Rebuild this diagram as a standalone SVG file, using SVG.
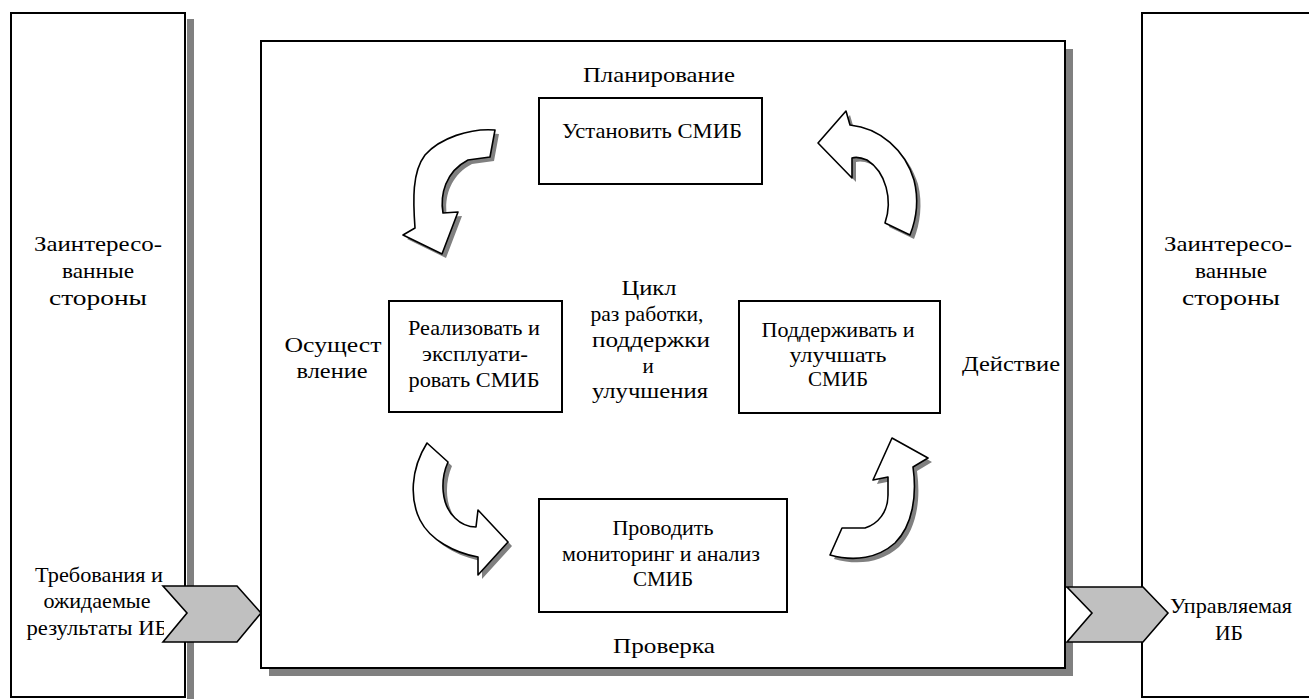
<svg xmlns="http://www.w3.org/2000/svg" width="1309" height="699" viewBox="0 0 1309 699">
<defs>
<path id="a1" d="M495,130 C470,128 440,138 425,155 C412,172 413,200 415,228 L403,235 L442,254 L458,212 L443,213 C440,195 445,172 468,160 L490,157 Z"/>
<path id="a2" d="M818,143 L846,111 L850,125 C880,128 905,150 914,180 C919,200 916,220 910,235 L885,223 C893,200 886,172 867,160 C860,157 855,157 852,158 L852,178 Z"/>
<path id="a3" d="M427,443 L448,462 C440,480 441,505 455,518 C462,525 470,527 476,527 L478,510 L508,542 L478,575 L478,557 C455,553 430,540 420,520 C410,500 410,470 427,443 Z"/>
<path id="a4" d="M892,438 L928,458 L913,467 C917,495 913,525 895,543 C878,558 855,562 830,555 L842,528 L865,528 C878,524 888,512 888,495 L888,477 L873,480 Z"/>
</defs>
<style>
.box{fill:#fff;stroke:#000;stroke-width:2}
.sh{fill:#808080}
.t{font-family:"Liberation Serif","Times New Roman",serif;font-size:21px;fill:#000;text-anchor:middle}
.arr{fill:#fff;stroke:#000;stroke-width:1.6;stroke-linejoin:round}
.arrsh{fill:#808080}
.chev{fill:#c0c0c0;stroke:#000;stroke-width:1.6;stroke-linejoin:miter}
</style>
<rect width="1309" height="699" fill="#fff"/>

<g id="left-stakeholders">
<rect class="sh" x="187" y="19" width="7" height="690"/>
<rect class="box" x="11" y="13" width="174" height="684"/>
<text class="t" x="98" y="251" textLength="128" lengthAdjust="spacingAndGlyphs">Заинтересо-</text>
<text class="t" x="98" y="278" textLength="72" lengthAdjust="spacingAndGlyphs">ванные</text>
<text class="t" x="98" y="305" textLength="98" lengthAdjust="spacingAndGlyphs">стороны</text>
<text class="t" x="99" y="582" textLength="128" lengthAdjust="spacingAndGlyphs">Требования и</text>
<text class="t" x="97" y="608" textLength="107" lengthAdjust="spacingAndGlyphs">ожидаемые</text>
<text class="t" x="97" y="635" textLength="141" lengthAdjust="spacingAndGlyphs">результаты ИБ</text>
</g>

<g id="right-stakeholders">
<rect class="box" x="1142" y="13" width="180" height="684"/>
<text class="t" x="1228" y="251" textLength="128" lengthAdjust="spacingAndGlyphs">Заинтересо-</text>
<text class="t" x="1231" y="278" textLength="72" lengthAdjust="spacingAndGlyphs">ванные</text>
<text class="t" x="1231" y="305" textLength="98" lengthAdjust="spacingAndGlyphs">стороны</text>
<text class="t" x="1231" y="613" textLength="122" lengthAdjust="spacingAndGlyphs">Управляемая</text>
<text class="t" x="1229" y="640" textLength="28" lengthAdjust="spacingAndGlyphs">ИБ</text>
</g>

<g id="cycle-frame">
<rect class="sh" x="269" y="49" width="804" height="627"/>
<rect class="box" x="261" y="41" width="804" height="627"/>
<text class="t" x="659" y="82" textLength="152" lengthAdjust="spacingAndGlyphs">Планирование</text>
<text class="t" x="333" y="352" textLength="97" lengthAdjust="spacingAndGlyphs">Осущест</text>
<text class="t" x="332" y="378" textLength="71" lengthAdjust="spacingAndGlyphs">вление</text>
<text class="t" x="649" y="295" textLength="55" lengthAdjust="spacingAndGlyphs">Цикл</text>
<text class="t" x="647" y="321" textLength="113" lengthAdjust="spacingAndGlyphs">раз работки,</text>
<text class="t" x="651" y="347" textLength="118" lengthAdjust="spacingAndGlyphs">поддержки</text>
<text class="t" x="648" y="373">и</text>
<text class="t" x="650" y="398" textLength="116" lengthAdjust="spacingAndGlyphs">улучшения</text>
<text class="t" x="1011" y="371" textLength="98" lengthAdjust="spacingAndGlyphs">Действие</text>
<text class="t" x="664" y="653" textLength="102" lengthAdjust="spacingAndGlyphs">Проверка</text>
</g>

<g id="establish">
<rect class="box" x="539" y="98" width="223" height="86"/>
<text class="t" x="652" y="138" textLength="180" lengthAdjust="spacingAndGlyphs">Установить СМИБ</text>
</g>

<g id="implement">
<rect class="box" x="389" y="301" width="173" height="111"/>
<text class="t" x="474" y="335" textLength="132" lengthAdjust="spacingAndGlyphs">Реализовать и</text>
<text class="t" x="475" y="361" textLength="106" lengthAdjust="spacingAndGlyphs">эксплуати-</text>
<text class="t" x="474" y="387" textLength="131" lengthAdjust="spacingAndGlyphs">ровать СМИБ</text>
</g>

<g id="maintain">
<rect class="box" x="739" y="301" width="201" height="112"/>
<text class="t" x="838" y="337" textLength="153" lengthAdjust="spacingAndGlyphs">Поддерживать и</text>
<text class="t" x="838" y="362" textLength="97" lengthAdjust="spacingAndGlyphs">улучшать</text>
<text class="t" x="838" y="386" textLength="60" lengthAdjust="spacingAndGlyphs">СМИБ</text>
</g>

<g id="monitor">
<rect class="box" x="539" y="499" width="248" height="113"/>
<text class="t" x="663" y="535" textLength="101" lengthAdjust="spacingAndGlyphs">Проводить</text>
<text class="t" x="661" y="561" textLength="198" lengthAdjust="spacingAndGlyphs">мониторинг и анализ</text>
<text class="t" x="663" y="586" textLength="60" lengthAdjust="spacingAndGlyphs">СМИБ</text>
</g>

<g id="connectors">
<g transform="translate(4,4)" class="arrsh">
<use href="#a1"/>
<use href="#a2"/>
<use href="#a3"/>
<use href="#a4"/>
</g>
<use href="#a1" class="arr"/>
<use href="#a2" class="arr"/>
<use href="#a3" class="arr"/>
<use href="#a4" class="arr"/>
<rect x="164" y="587" width="24" height="55" fill="#fff"/>
<polygon class="chev" points="163,586 237,586 261,613 237,642 163,642 187,613"/>
<rect x="1066" y="588" width="26" height="54" fill="#fff"/>
<polygon class="chev" points="1067,587 1143,587 1168,613 1143,642 1067,642 1092,613"/>
</g>
</svg>
